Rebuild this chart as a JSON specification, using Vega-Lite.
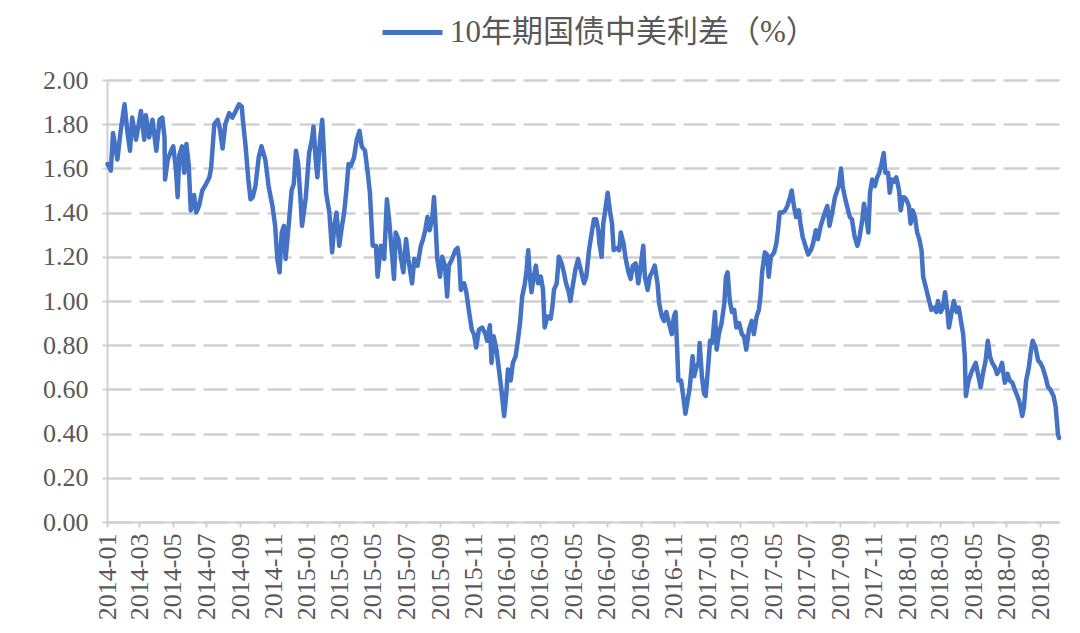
{
"$schema": "https://vega.github.io/schema/vega-lite/v6.json",
"width": 952, "height": 442,
"autosize": {"type": "none"},
"padding": {"left": 107, "top": 80, "right": 21, "bottom": 111},
"background": "white",
"config": {"view": {"stroke": null}, "font": "Liberation Serif"},
"data": {"values": [
{"d":"2014-01-02","v":1.62},{"d":"2014-01-08","v":1.59},{"d":"2014-01-12","v":1.76},{"d":"2014-01-20","v":1.64},{"d":"2014-01-26","v":1.77},
{"d":"2014-02-02","v":1.89},{"d":"2014-02-07","v":1.77},{"d":"2014-02-12","v":1.68},{"d":"2014-02-16","v":1.83},{"d":"2014-02-23","v":1.73},
{"d":"2014-03-04","v":1.86},{"d":"2014-03-10","v":1.73},{"d":"2014-03-13","v":1.84},{"d":"2014-03-19","v":1.74},{"d":"2014-03-25","v":1.82},
{"d":"2014-04-01","v":1.68},{"d":"2014-04-07","v":1.82},{"d":"2014-04-12","v":1.83},{"d":"2014-04-16","v":1.74},{"d":"2014-04-17","v":1.55},{"d":"2014-04-22","v":1.64},{"d":"2014-04-28","v":1.68},
{"d":"2014-05-02","v":1.70},{"d":"2014-05-07","v":1.59},{"d":"2014-05-10","v":1.47},{"d":"2014-05-13","v":1.66},{"d":"2014-05-18","v":1.70},{"d":"2014-05-22","v":1.58},{"d":"2014-05-26","v":1.71},{"d":"2014-05-30","v":1.62},
{"d":"2014-06-03","v":1.41},{"d":"2014-06-09","v":1.48},{"d":"2014-06-13","v":1.40},{"d":"2014-06-18","v":1.43},{"d":"2014-06-24","v":1.50},
{"d":"2014-07-01","v":1.53},{"d":"2014-07-07","v":1.56},{"d":"2014-07-10","v":1.60},{"d":"2014-07-16","v":1.80},{"d":"2014-07-22","v":1.82},{"d":"2014-07-26","v":1.78},{"d":"2014-07-31","v":1.69},
{"d":"2014-08-05","v":1.80},{"d":"2014-08-12","v":1.85},{"d":"2014-08-18","v":1.83},{"d":"2014-08-24","v":1.86},{"d":"2014-08-30","v":1.89},
{"d":"2014-09-04","v":1.88},{"d":"2014-09-06","v":1.82},{"d":"2014-09-11","v":1.70},{"d":"2014-09-16","v":1.55},{"d":"2014-09-20","v":1.46},{"d":"2014-09-24","v":1.47},{"d":"2014-09-29","v":1.52},
{"d":"2014-10-05","v":1.65},{"d":"2014-10-10","v":1.70},{"d":"2014-10-17","v":1.64},{"d":"2014-10-23","v":1.52},{"d":"2014-10-30","v":1.43},
{"d":"2014-11-04","v":1.34},{"d":"2014-11-08","v":1.19},{"d":"2014-11-12","v":1.13},{"d":"2014-11-16","v":1.31},{"d":"2014-11-20","v":1.34},{"d":"2014-11-23","v":1.19},{"d":"2014-11-29","v":1.35},
{"d":"2014-12-04","v":1.50},{"d":"2014-12-08","v":1.53},{"d":"2014-12-12","v":1.68},{"d":"2014-12-16","v":1.62},{"d":"2014-12-20","v":1.47},{"d":"2014-12-23","v":1.34},{"d":"2014-12-30","v":1.47},
{"d":"2015-01-05","v":1.67},{"d":"2015-01-10","v":1.73},{"d":"2015-01-13","v":1.79},{"d":"2015-01-17","v":1.64},{"d":"2015-01-20","v":1.56},{"d":"2015-01-25","v":1.73},{"d":"2015-01-29","v":1.82},
{"d":"2015-02-02","v":1.62},{"d":"2015-02-05","v":1.49},{"d":"2015-02-11","v":1.40},{"d":"2015-02-16","v":1.22},{"d":"2015-02-20","v":1.34},{"d":"2015-02-24","v":1.40},
{"d":"2015-03-01","v":1.25},{"d":"2015-03-06","v":1.34},{"d":"2015-03-10","v":1.40},{"d":"2015-03-14","v":1.50},{"d":"2015-03-18","v":1.62},{"d":"2015-03-22","v":1.61},{"d":"2015-03-28","v":1.65},
{"d":"2015-04-02","v":1.73},{"d":"2015-04-07","v":1.77},{"d":"2015-04-11","v":1.70},{"d":"2015-04-17","v":1.68},{"d":"2015-04-22","v":1.58},{"d":"2015-04-26","v":1.49},
{"d":"2015-05-01","v":1.25},{"d":"2015-05-07","v":1.25},{"d":"2015-05-10","v":1.11},{"d":"2015-05-16","v":1.25},{"d":"2015-05-22","v":1.19},{"d":"2015-05-27","v":1.46},{"d":"2015-05-31","v":1.37},
{"d":"2015-06-05","v":1.22},{"d":"2015-06-09","v":1.10},{"d":"2015-06-12","v":1.31},{"d":"2015-06-17","v":1.28},{"d":"2015-06-22","v":1.19},{"d":"2015-06-26","v":1.13},
{"d":"2015-07-01","v":1.28},{"d":"2015-07-05","v":1.19},{"d":"2015-07-12","v":1.08},{"d":"2015-07-16","v":1.19},{"d":"2015-07-22","v":1.16},{"d":"2015-07-28","v":1.25},
{"d":"2015-08-01","v":1.28},{"d":"2015-08-05","v":1.32},{"d":"2015-08-09","v":1.38},{"d":"2015-08-13","v":1.32},{"d":"2015-08-18","v":1.38},{"d":"2015-08-21","v":1.47},{"d":"2015-08-24","v":1.34},{"d":"2015-08-27","v":1.19},
{"d":"2015-09-01","v":1.11},{"d":"2015-09-05","v":1.20},{"d":"2015-09-10","v":1.16},{"d":"2015-09-14","v":1.02},{"d":"2015-09-17","v":1.16},{"d":"2015-09-23","v":1.19},{"d":"2015-09-29","v":1.23},
{"d":"2015-10-03","v":1.24},{"d":"2015-10-06","v":1.19},{"d":"2015-10-09","v":1.05},{"d":"2015-10-15","v":1.08},{"d":"2015-10-19","v":1.04},{"d":"2015-10-24","v":0.95},{"d":"2015-10-29","v":0.87},
{"d":"2015-11-02","v":0.85},{"d":"2015-11-06","v":0.79},{"d":"2015-11-11","v":0.87},{"d":"2015-11-17","v":0.88},{"d":"2015-11-23","v":0.85},{"d":"2015-11-26","v":0.82},
{"d":"2015-12-01","v":0.89},{"d":"2015-12-04","v":0.72},{"d":"2015-12-08","v":0.84},{"d":"2015-12-13","v":0.78},{"d":"2015-12-17","v":0.70},{"d":"2015-12-22","v":0.60},{"d":"2015-12-27","v":0.48},{"d":"2015-12-31","v":0.58},
{"d":"2016-01-03","v":0.69},{"d":"2016-01-08","v":0.64},{"d":"2016-01-12","v":0.72},{"d":"2016-01-17","v":0.75},{"d":"2016-01-21","v":0.82},{"d":"2016-01-25","v":0.90},{"d":"2016-01-29","v":1.02},
{"d":"2016-02-03","v":1.08},{"d":"2016-02-06","v":1.14},{"d":"2016-02-09","v":1.23},{"d":"2016-02-12","v":1.11},{"d":"2016-02-15","v":1.04},{"d":"2016-02-19","v":1.11},{"d":"2016-02-23","v":1.16},{"d":"2016-02-27","v":1.08},
{"d":"2016-03-03","v":1.11},{"d":"2016-03-07","v":1.05},{"d":"2016-03-10","v":0.88},{"d":"2016-03-15","v":0.93},{"d":"2016-03-21","v":0.92},{"d":"2016-03-24","v":0.97},{"d":"2016-03-27","v":1.05},
{"d":"2016-04-01","v":1.08},{"d":"2016-04-05","v":1.20},{"d":"2016-04-10","v":1.17},{"d":"2016-04-14","v":1.13},{"d":"2016-04-18","v":1.08},{"d":"2016-04-23","v":1.04},{"d":"2016-04-26","v":1.00},
{"d":"2016-05-01","v":1.08},{"d":"2016-05-05","v":1.14},{"d":"2016-05-10","v":1.19},{"d":"2016-05-15","v":1.14},{"d":"2016-05-19","v":1.10},{"d":"2016-05-21","v":1.08},{"d":"2016-05-25","v":1.11},{"d":"2016-05-30","v":1.23},
{"d":"2016-06-04","v":1.31},{"d":"2016-06-08","v":1.37},{"d":"2016-06-12","v":1.37},{"d":"2016-06-16","v":1.32},{"d":"2016-06-18","v":1.26},{"d":"2016-06-22","v":1.20},{"d":"2016-06-25","v":1.35},{"d":"2016-06-28","v":1.40},
{"d":"2016-07-03","v":1.49},{"d":"2016-07-07","v":1.41},{"d":"2016-07-11","v":1.35},{"d":"2016-07-14","v":1.23},{"d":"2016-07-19","v":1.24},{"d":"2016-07-24","v":1.23},{"d":"2016-07-27","v":1.31},
{"d":"2016-08-01","v":1.26},{"d":"2016-08-05","v":1.19},{"d":"2016-08-10","v":1.13},{"d":"2016-08-14","v":1.10},{"d":"2016-08-18","v":1.16},{"d":"2016-08-23","v":1.17},{"d":"2016-08-28","v":1.08},
{"d":"2016-09-02","v":1.17},{"d":"2016-09-06","v":1.25},{"d":"2016-09-09","v":1.11},{"d":"2016-09-14","v":1.05},{"d":"2016-09-18","v":1.11},{"d":"2016-09-22","v":1.13},{"d":"2016-09-27","v":1.16},
{"d":"2016-10-02","v":1.08},{"d":"2016-10-05","v":0.99},{"d":"2016-10-10","v":0.93},{"d":"2016-10-14","v":0.91},{"d":"2016-10-18","v":0.95},{"d":"2016-10-23","v":0.90},{"d":"2016-10-28","v":0.85},
{"d":"2016-11-01","v":0.93},{"d":"2016-11-04","v":0.95},{"d":"2016-11-07","v":0.78},{"d":"2016-11-09","v":0.64},{"d":"2016-11-14","v":0.64},{"d":"2016-11-18","v":0.57},{"d":"2016-11-22","v":0.49},{"d":"2016-11-26","v":0.55},{"d":"2016-11-30","v":0.61},
{"d":"2016-12-05","v":0.75},{"d":"2016-12-08","v":0.66},{"d":"2016-12-12","v":0.70},{"d":"2016-12-16","v":0.72},{"d":"2016-12-18","v":0.81},{"d":"2016-12-22","v":0.66},{"d":"2016-12-26","v":0.58},{"d":"2016-12-29","v":0.57},
{"d":"2017-01-03","v":0.72},{"d":"2017-01-06","v":0.82},{"d":"2017-01-10","v":0.81},{"d":"2017-01-15","v":0.95},{"d":"2017-01-18","v":0.78},{"d":"2017-01-22","v":0.85},{"d":"2017-01-27","v":0.90},
{"d":"2017-02-01","v":0.99},{"d":"2017-02-04","v":1.11},{"d":"2017-02-07","v":1.13},{"d":"2017-02-11","v":1.00},{"d":"2017-02-15","v":0.95},{"d":"2017-02-19","v":0.96},{"d":"2017-02-23","v":0.88},{"d":"2017-02-28","v":0.90},
{"d":"2017-03-05","v":0.85},{"d":"2017-03-09","v":0.84},{"d":"2017-03-13","v":0.78},{"d":"2017-03-18","v":0.87},{"d":"2017-03-23","v":0.91},{"d":"2017-03-27","v":0.85},
{"d":"2017-04-01","v":0.93},{"d":"2017-04-05","v":0.96},{"d":"2017-04-08","v":1.02},{"d":"2017-04-11","v":1.13},{"d":"2017-04-16","v":1.22},{"d":"2017-04-20","v":1.21},{"d":"2017-04-23","v":1.11},{"d":"2017-04-27","v":1.20},
{"d":"2017-05-03","v":1.22},{"d":"2017-05-07","v":1.26},{"d":"2017-05-10","v":1.32},{"d":"2017-05-13","v":1.40},{"d":"2017-05-18","v":1.40},{"d":"2017-05-23","v":1.41},{"d":"2017-05-27","v":1.43},
{"d":"2017-06-01","v":1.47},{"d":"2017-06-04","v":1.50},{"d":"2017-06-08","v":1.43},{"d":"2017-06-12","v":1.38},{"d":"2017-06-17","v":1.41},{"d":"2017-06-20","v":1.35},{"d":"2017-06-24","v":1.29},{"d":"2017-06-29","v":1.25},
{"d":"2017-07-04","v":1.21},{"d":"2017-07-09","v":1.23},{"d":"2017-07-13","v":1.26},{"d":"2017-07-18","v":1.32},{"d":"2017-07-22","v":1.28},{"d":"2017-07-27","v":1.34},
{"d":"2017-08-01","v":1.38},{"d":"2017-08-05","v":1.41},{"d":"2017-08-08","v":1.43},{"d":"2017-08-12","v":1.34},{"d":"2017-08-17","v":1.40},{"d":"2017-08-22","v":1.47},{"d":"2017-08-26","v":1.50},{"d":"2017-08-29","v":1.52},
{"d":"2017-09-02","v":1.60},{"d":"2017-09-05","v":1.52},{"d":"2017-09-09","v":1.47},{"d":"2017-09-13","v":1.43},{"d":"2017-09-18","v":1.38},{"d":"2017-09-22","v":1.37},{"d":"2017-09-27","v":1.29},
{"d":"2017-10-02","v":1.25},{"d":"2017-10-06","v":1.29},{"d":"2017-10-11","v":1.37},{"d":"2017-10-14","v":1.44},{"d":"2017-10-18","v":1.38},{"d":"2017-10-22","v":1.31},{"d":"2017-10-25","v":1.49},{"d":"2017-10-29","v":1.55},
{"d":"2017-11-03","v":1.52},{"d":"2017-11-07","v":1.56},{"d":"2017-11-11","v":1.58},{"d":"2017-11-15","v":1.62},{"d":"2017-11-19","v":1.67},{"d":"2017-11-22","v":1.58},{"d":"2017-11-27","v":1.58},{"d":"2017-11-30","v":1.49},
{"d":"2017-12-04","v":1.55},{"d":"2017-12-08","v":1.54},{"d":"2017-12-12","v":1.56},{"d":"2017-12-17","v":1.50},{"d":"2017-12-20","v":1.41},{"d":"2017-12-24","v":1.47},{"d":"2017-12-26","v":1.47},{"d":"2017-12-30","v":1.46},
{"d":"2018-01-04","v":1.43},{"d":"2018-01-07","v":1.35},{"d":"2018-01-11","v":1.41},{"d":"2018-01-15","v":1.38},{"d":"2018-01-19","v":1.31},{"d":"2018-01-23","v":1.28},{"d":"2018-01-27","v":1.23},{"d":"2018-01-30","v":1.11},
{"d":"2018-02-02","v":1.08},{"d":"2018-02-06","v":1.04},{"d":"2018-02-11","v":0.99},{"d":"2018-02-14","v":0.96},{"d":"2018-02-19","v":0.97},{"d":"2018-02-23","v":0.95},{"d":"2018-02-26","v":1.00},
{"d":"2018-03-03","v":0.95},{"d":"2018-03-07","v":0.97},{"d":"2018-03-11","v":1.04},{"d":"2018-03-15","v":0.96},{"d":"2018-03-18","v":0.88},{"d":"2018-03-23","v":0.95},{"d":"2018-03-27","v":1.00},
{"d":"2018-04-01","v":0.95},{"d":"2018-04-05","v":0.97},{"d":"2018-04-09","v":0.91},{"d":"2018-04-13","v":0.85},{"d":"2018-04-16","v":0.75},{"d":"2018-04-18","v":0.57},{"d":"2018-04-23","v":0.64},{"d":"2018-04-27","v":0.67},
{"d":"2018-05-02","v":0.70},{"d":"2018-05-06","v":0.72},{"d":"2018-05-10","v":0.67},{"d":"2018-05-15","v":0.61},{"d":"2018-05-19","v":0.67},{"d":"2018-05-24","v":0.73},{"d":"2018-05-28","v":0.82},
{"d":"2018-06-01","v":0.75},{"d":"2018-06-05","v":0.72},{"d":"2018-06-10","v":0.70},{"d":"2018-06-14","v":0.67},{"d":"2018-06-19","v":0.69},{"d":"2018-06-23","v":0.72},{"d":"2018-06-28","v":0.63},
{"d":"2018-07-03","v":0.67},{"d":"2018-07-07","v":0.64},{"d":"2018-07-12","v":0.63},{"d":"2018-07-16","v":0.60},{"d":"2018-07-21","v":0.57},{"d":"2018-07-25","v":0.54},{"d":"2018-07-30","v":0.48},
{"d":"2018-08-02","v":0.52},{"d":"2018-08-06","v":0.64},{"d":"2018-08-11","v":0.70},{"d":"2018-08-15","v":0.78},{"d":"2018-08-18","v":0.82},{"d":"2018-08-23","v":0.79},{"d":"2018-08-28","v":0.73},
{"d":"2018-09-01","v":0.72},{"d":"2018-09-05","v":0.70},{"d":"2018-09-10","v":0.66},{"d":"2018-09-15","v":0.61},{"d":"2018-09-19","v":0.60},{"d":"2018-09-25","v":0.57},{"d":"2018-09-29","v":0.52},
{"d":"2018-10-03","v":0.40},{"d":"2018-10-05","v":0.38}
]},
"mark": {"type": "line", "strokeWidth": 4.5, "strokeJoin": "round", "strokeCap": "round"},
"encoding": {
  "x": {"field": "d", "type": "temporal",
    "scale": {"type": "utc", "nice": false, "domain": [{"year": 2014, "month": 1, "date": 1, "utc": true}, {"year": 2018, "month": 10, "date": 5, "utc": true}]},
    "axis": {"title": null, "labelExpr": "utcFormat(datum.value, '%Y-%m')", "labelAngle": -90, "labelFontSize": 26, "labelFont": "Liberation Serif", "labelColor": "#595959", "labelPadding": 6, "tickSize": 5, "tickColor": "#d0d0d0", "tickWidth": 2, "domainColor": "#d0d0d0", "domainWidth": 2, "grid": false, "tickCount": {"interval": "month", "step": 2}, "labelOverlap": false, "labelFlush": false, "labelBound": false}},
  "y": {"field": "v", "type": "quantitative",
    "scale": {"domain": [0, 2], "nice": false},
    "axis": {"title": null, "values": [0, 0.2, 0.4, 0.6, 0.8, 1.0, 1.2, 1.4, 1.6, 1.8, 2.0], "format": ".2f", "labelFontSize": 26, "labelFont": "Liberation Serif", "labelColor": "#595959", "labelPadding": 14, "tickSize": 5, "tickColor": "#d0d0d0", "tickWidth": 2, "domainColor": "#d0d0d0", "domainWidth": 2, "grid": true, "gridDash": [24, 8], "gridColor": "#d0d0d0", "gridWidth": 2.5}},
  "color": {"datum": "10年期国债中美利差（%）", "scale": {"range": ["#4472C4"]},
    "legend": {"orient": "none", "legendX": 273, "legendY": -80, "title": null, "symbolType": "stroke", "symbolSize": 3600, "symbolStrokeWidth": 5, "labelFontSize": 31, "labelFont": "Liberation Serif, Noto Sans CJK SC", "labelColor": "#595959", "labelOffset": 5, "labelLimit": 0, "padding": 0}}
}
}
